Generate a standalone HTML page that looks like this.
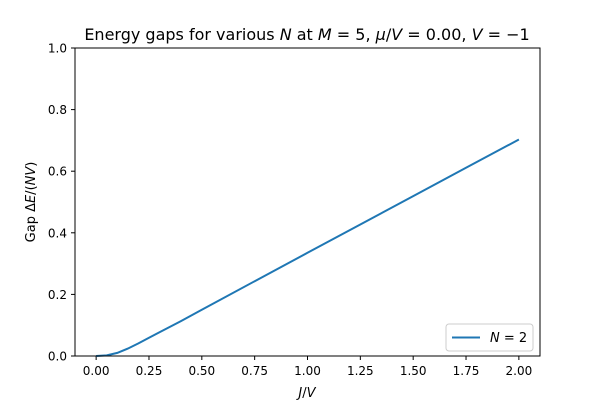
<!DOCTYPE html>
<html><head><meta charset="utf-8"><style>
body{margin:0;background:#fff;}
svg text{font-family:"DejaVu Sans","Liberation Sans",sans-serif;}
</style></head><body>
<svg id="chart" width="600" height="400" xmlns="http://www.w3.org/2000/svg">
<rect width="600" height="400" fill="#fff"/>
<text x="307" y="40" text-anchor="middle" font-size="16">Energy gaps for various <tspan font-style="italic">N</tspan> at <tspan font-style="italic">M</tspan> = 5, <tspan font-style="italic">μ</tspan>/<tspan font-style="italic">V</tspan> = 0.00, <tspan font-style="italic">V</tspan> = −1</text>
<g id="xt"></g><g id="yt"></g>
<path id="line" fill="none" stroke="#1f77b4" stroke-width="2"/>
<rect x="75" y="48" width="465" height="308" fill="none" stroke="#000" stroke-width="1"/>
<text x="307" y="397" text-anchor="middle" font-size="13"><tspan font-style="italic">J</tspan>/<tspan font-style="italic">V</tspan></text>
<text transform="translate(35,202) rotate(-90)" text-anchor="middle" font-size="13">Gap Δ<tspan font-style="italic">E</tspan>/(<tspan font-style="italic">NV</tspan>)</text>
<g>
<rect x="446" y="324" width="87" height="27" rx="3" fill="#fff" stroke="#ccc"/>
<line x1="452" y1="337.5" x2="480" y2="337.5" stroke="#1f77b4" stroke-width="2"/>
<text x="490" y="342" font-size="13"><tspan font-style="italic">N</tspan> = 2</text>
</g>
</svg>
<script>
const xs=[0,0.05,0.1,0.15,0.2,0.25,0.3,0.4,0.5,0.75,1.0,1.25,1.5,1.75,2.0];
const gaps=[0,0.002,0.01,0.024,0.041,0.059,0.077,0.113,0.15,0.243,0.335,0.427,0.519,0.611,0.703];
const xTicks=[0,0.25,0.5,0.75,1.0,1.25,1.5,1.75,2.0];
const xTickLabels=["0.00","0.25","0.50","0.75","1.00","1.25","1.50","1.75","2.00"];
const yTicks=[0,0.2,0.4,0.6,0.8,1.0];
const yTickLabels=["0.0","0.2","0.4","0.6","0.8","1.0"];
const X=v=>75+(v+0.1)/2.2*465, Y=v=>356-v*308;
const ns="http://www.w3.org/2000/svg";
const xt=document.getElementById('xt'), yt=document.getElementById('yt');
xTicks.forEach((t,i)=>{
 const l=document.createElementNS(ns,'line');
 l.setAttribute('x1',X(t));l.setAttribute('x2',X(t));l.setAttribute('y1',356);l.setAttribute('y2',360);l.setAttribute('stroke','#000');
 
 
 xt.appendChild(l);
 const s=document.createElementNS(ns,'text');
 s.setAttribute('x',X(t));s.setAttribute('y',375);s.setAttribute('text-anchor','middle');s.setAttribute('font-size','12');s.textContent=xTickLabels[i];
 
 
 xt.appendChild(s);
});
yTicks.forEach((t,i)=>{
 const l=document.createElementNS(ns,'line');
 l.setAttribute('x1',71);l.setAttribute('x2',75);l.setAttribute('y1',Y(t));l.setAttribute('y2',Y(t));l.setAttribute('stroke','#000');
 
 
 yt.appendChild(l);
 const s=document.createElementNS(ns,'text');
 s.setAttribute('x',67);s.setAttribute('y',Y(t)+4.5);s.setAttribute('text-anchor','end');s.setAttribute('font-size','12');s.textContent=yTickLabels[i];
 
 
 yt.appendChild(s);
});
document.getElementById('line').setAttribute('d',xs.map((x,i)=>(i?'L':'M')+X(x).toFixed(1)+','+Y(gaps[i]).toFixed(1)).join(''));
</script>
</body></html>
